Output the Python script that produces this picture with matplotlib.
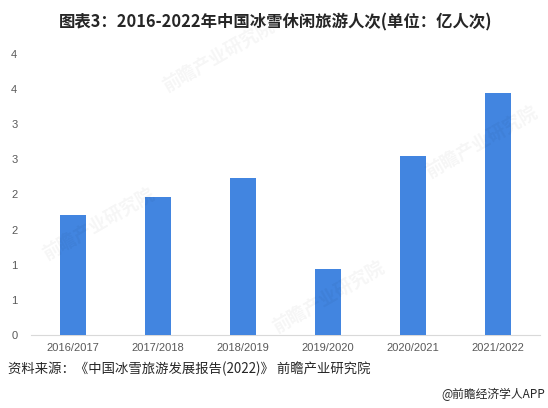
import matplotlib
matplotlib.use("Agg")
import matplotlib.pyplot as plt
from matplotlib.ticker import FuncFormatter

plt.rcParams['font.family'] = ['Noto Sans CJK SC', 'DejaVu Sans']

seasons = ['2016/2017', '2017/2018', '2018/2019', '2019/2020', '2020/2021', '2021/2022']
visits = [1.70, 1.97, 2.24, 0.94, 2.54, 3.44]  # 亿人次
yticks = [0, 0.5, 1, 1.5, 2, 2.5, 3, 3.5, 4]

fig = plt.figure(figsize=(5.48, 4.08), dpi=100)
ax = fig.add_axes([0.056, 0.179, 0.93, 0.689])

ax.bar(seasons, visits, width=0.31, color='#4285e0', zorder=3)

ax.set_ylim(0, 4)
ax.set_xlim(-0.5, len(seasons) - 0.5)
ax.set_yticks(yticks)
# labels are rounded to whole numbers in the original (0.5 -> 1)
ax.yaxis.set_major_formatter(FuncFormatter(lambda v, p: str(int(v + 0.5))))

for s in ['top', 'right', 'left']:
    ax.spines[s].set_visible(False)
ax.spines['bottom'].set_color('#d9d9d9')
ax.tick_params(axis='both', length=0, labelsize=8, colors='#595959')
ax.tick_params(axis='x', pad=6)
ax.tick_params(axis='y', pad=14)
for lab in ax.get_xticklabels() + ax.get_yticklabels():
    lab.set_fontfamily(['Liberation Sans', 'DejaVu Sans'])
for lab in ax.get_yticklabels():
    lab.set_horizontalalignment('left')

# faint watermarks, kept inside the figure
for (x, y) in [(0.40, 0.86), (0.18, 0.45), (0.60, 0.27), (0.88, 0.65)]:
    fig.text(x, y, '前瞻产业研究院', fontsize=13, color='#000000', alpha=0.04,
             rotation=30, ha='center', va='center', fontweight='bold')

fig.text(0.503, 0.944, '图表3：2016-2022年中国冰雪休闲旅游人次(单位：亿人次)',
         ha='center', va='center', fontsize=11.8, fontweight='bold', color='#262626')
fig.text(0.015, 0.096, '资料来源：《中国冰雪旅游发展报告(2022)》 前瞻产业研究院',
         ha='left', va='center', fontsize=9.6, color='#262626')
fig.text(0.995, 0.034, '@前瞻经济学人APP', ha='right', va='center',
         fontsize=8.5, color='#262626')

fig.savefig('out.png', dpi=100)
